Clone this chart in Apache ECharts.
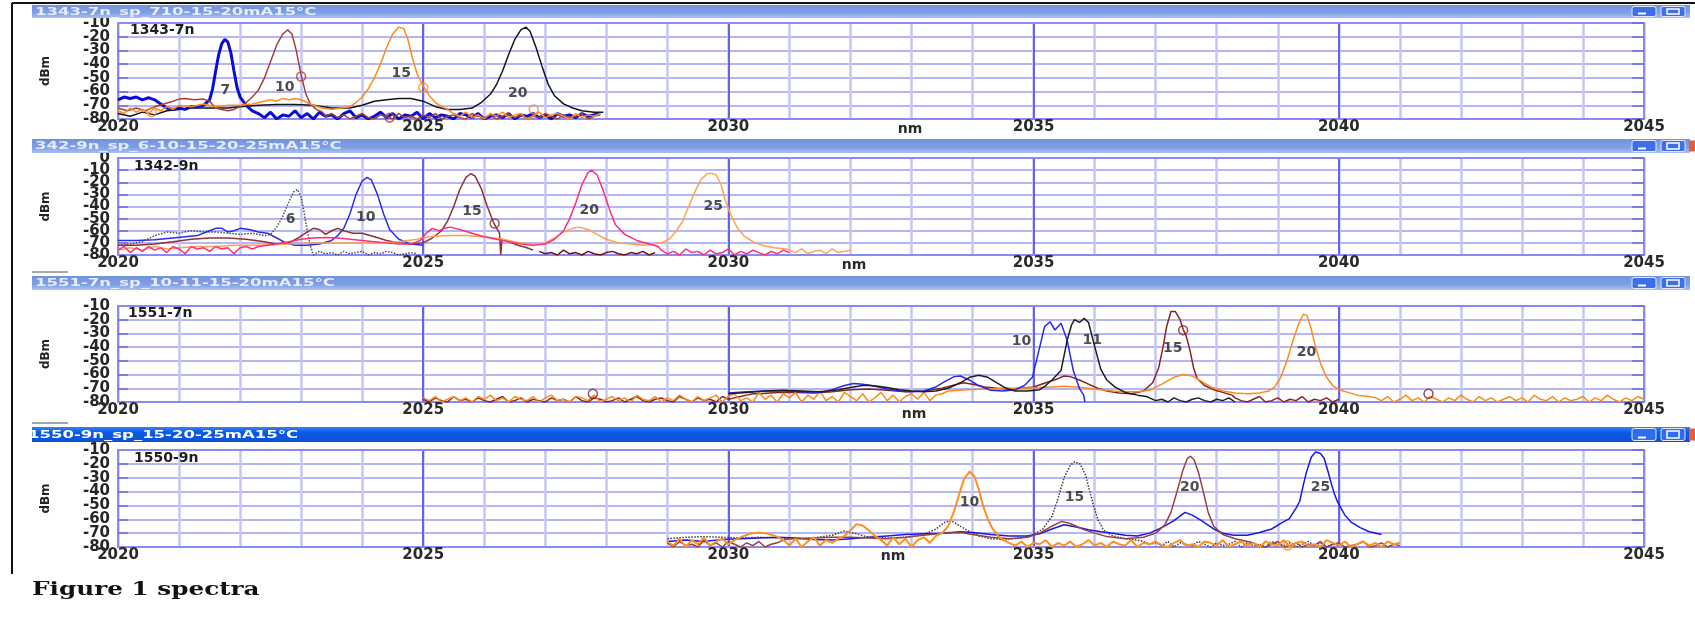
<!DOCTYPE html>
<html><head><meta charset="utf-8">
<script src="https://cdn.jsdelivr.net/npm/echarts@6.0.0/dist/echarts.min.js"></script>
<style>html,body{margin:0;padding:0;background:#fff;overflow:hidden}#c{width:1695px;height:627px}</style>
</head><body><div id="c"></div>
<script>
// ---------- text ----------
const TITLES = ['1343-7n_sp_710-15-20mA15°C', '342-9n_sp_6-10-15-20-25mA15°C', '1551-7n_sp_10-11-15-20mA15°C', '1550-9n_sp_15-20-25mA15°C'];
const NAMES = ['1343-7n', '1342-9n', '1551-7n', '1550-9n'];
const CAPTION = 'Figure 1 spectra';
const X_MIN = 2020, X_MAX = 2045;
const Y_MIN = -80;
const Y_MAX = [-10, 0, -10, -10];

// ---------- panel 1 (1343-7n) ----------
const P1_BLUE_7 = [[2020.0,-66],[2020.1,-64],[2020.2,-65],[2020.3,-64],[2020.4,-66],[2020.5,-64.5],[2020.6,-66],[2020.7,-69],[2020.8,-72],[2020.9,-73],[2021.0,-72],[2021.1,-73],[2021.2,-71],[2021.3,-71],[2021.4,-70],[2021.5,-66],[2021.55,-58],[2021.6,-45],[2021.65,-33],[2021.7,-25],[2021.75,-22],[2021.8,-24],[2021.85,-32],[2021.9,-45],[2021.95,-57],[2022.0,-64],[2022.1,-70],[2022.2,-74]];
const N_P1_BLUE = [-76,-79,-75,-80,-77,-78,-74,-79,-76,-80,-75,-78,-77,-80,-76,-74,-79,-77,-80,-78,-75,-79,-76,-80,-77,-78,-75,-80,-76,-79,-77,-78,-80,-76,-77,-79,-76,-80,-78,-77,-79,-76,-80,-77,-78,-76,-79,-77,-80,-76,-78,-77,-79,-76,-78,-77,-76];
const P1_BROWN_10 = [[2020.0,-72],[2020.15,-74],[2020.3,-72],[2020.45,-74],[2020.6,-71],[2020.75,-69],[2020.9,-67],[2021.0,-65.5],[2021.1,-65],[2021.25,-66],[2021.4,-65.5],[2021.5,-67],[2021.6,-72],[2021.7,-73],[2021.8,-74],[2021.9,-73],[2022.0,-71],[2022.1,-68],[2022.2,-64],[2022.3,-59],[2022.4,-50],[2022.5,-38],[2022.6,-26],[2022.7,-18],[2022.78,-15],[2022.85,-18],[2022.92,-30],[2023.0,-48],[2023.08,-62],[2023.15,-69],[2023.25,-73],[2023.35,-75]];
const N_P1_BROWN = [-78,-76,-79,-77,-80,-78,-76,-79,-80,-77,-78,-80,-76,-79,-78,-80,-77,-79,-76,-80,-78,-77,-79,-80,-76,-78,-79,-77,-80,-78,-76,-79,-77,-80,-78,-79,-76,-78,-80,-77,-79,-78,-76,-80,-78,-77];
const P1_ORANGE_15 = [[2020.0,-74],[2020.1,-76],[2020.2,-72],[2020.3,-75],[2020.4,-73],[2020.5,-76],[2020.6,-72],[2020.7,-74],[2020.8,-71],[2020.9,-73],[2021.0,-70],[2021.2,-71],[2021.4,-69],[2021.6,-71],[2021.8,-70],[2022.0,-70],[2022.2,-69],[2022.4,-67],[2022.5,-66],[2022.6,-67],[2022.7,-65],[2022.8,-66],[2022.9,-65],[2023.0,-66],[2023.1,-68],[2023.2,-70],[2023.35,-72],[2023.5,-73],[2023.65,-72],[2023.8,-71],[2023.9,-68],[2024.0,-64],[2024.1,-58],[2024.2,-50],[2024.3,-40],[2024.4,-28],[2024.5,-18],[2024.6,-13],[2024.68,-14],[2024.75,-22],[2024.82,-35],[2024.9,-47],[2025.0,-56],[2025.1,-63],[2025.2,-68],[2025.3,-71],[2025.4,-73]];
const N_P1_ORANGE = [-76,-78,-75,-79,-77,-80,-76,-78,-75,-79,-77,-76,-80,-78,-75,-79,-77,-76,-78,-80,-76,-79,-77,-78,-76];
const P1_BLACK_20 = [[2020.0,-76],[2020.2,-78],[2020.4,-75],[2020.6,-77],[2020.8,-74],[2021.0,-73],[2021.2,-72],[2021.5,-72],[2021.8,-72],[2022.0,-71],[2022.3,-70],[2022.6,-69.5],[2022.9,-69.5],[2023.2,-70],[2023.5,-72],[2023.8,-72],[2024.0,-70],[2024.2,-67],[2024.4,-66],[2024.6,-65],[2024.8,-65],[2025.0,-67],[2025.2,-71],[2025.4,-73],[2025.6,-73],[2025.8,-72],[2025.95,-68],[2026.1,-62],[2026.2,-55],[2026.3,-45],[2026.4,-33],[2026.5,-22],[2026.6,-15],[2026.68,-13],[2026.75,-16],[2026.85,-28],[2026.95,-42],[2027.05,-55],[2027.15,-63],[2027.3,-69],[2027.45,-72],[2027.6,-74],[2027.8,-75],[2027.95,-75]];
const P1_LABELS = [[2021.76,-59,'7'],[2022.73,-57,'10'],[2024.64,-47,'15'],[2026.55,-61,'20']];
const P1_MARKS_BROWN = [[2023.0,-49],[2024.45,-79]];
const P1_MARKS_ORANGE = [[2025.0,-57],[2020.55,-75],[2026.81,-73]];

// ---------- panel 2 (1342-9n) ----------
const P2_GRAY_6 = [[2020.0,-72],[2020.2,-71],[2020.4,-69],[2020.6,-64],[2020.8,-61],[2021.0,-62],[2021.2,-60],[2021.4,-61],[2021.6,-61],[2021.8,-62],[2022.0,-63],[2022.2,-62],[2022.4,-64],[2022.5,-63],[2022.6,-57],[2022.7,-48],[2022.8,-36],[2022.88,-28],[2022.94,-26],[2023.0,-32],[2023.05,-45],[2023.1,-60],[2023.15,-72],[2023.2,-80]];
const N_P2_GRAY = [-77,-79,-78,-80,-77,-79,-78,-77,-80,-78,-79,-77,-78,-80,-79,-78,-79];
const P2_BLUE_10 = [[2020.0,-68],[2020.3,-68],[2020.6,-67.5],[2020.9,-66],[2021.1,-65],[2021.3,-64],[2021.5,-60],[2021.6,-58],[2021.7,-58],[2021.8,-61],[2021.9,-60],[2022.0,-58],[2022.15,-59],[2022.3,-61],[2022.45,-62],[2022.6,-66],[2022.75,-70],[2022.9,-72],[2023.1,-72],[2023.3,-71],[2023.5,-68],[2023.6,-64],[2023.7,-58],[2023.8,-46],[2023.9,-30],[2024.0,-19],[2024.08,-16],[2024.15,-18],[2024.25,-30],[2024.35,-46],[2024.45,-59],[2024.6,-67],[2024.8,-71],[2025.0,-72]];
const P2_BROWN_15 = [[2020.0,-72],[2020.3,-72],[2020.6,-71],[2020.9,-69],[2021.2,-67],[2021.5,-66],[2021.8,-66],[2022.1,-67],[2022.4,-69],[2022.6,-71],[2022.8,-70],[2022.95,-66],[2023.1,-61],[2023.2,-58],[2023.3,-59],[2023.4,-63],[2023.5,-60],[2023.6,-58],[2023.7,-60],[2023.85,-62],[2024.0,-62],[2024.2,-65],[2024.4,-68],[2024.6,-70],[2024.8,-71],[2025.0,-70],[2025.15,-66],[2025.3,-60],[2025.4,-52],[2025.5,-40],[2025.6,-26],[2025.7,-16],[2025.78,-13],[2025.85,-15],[2025.95,-25],[2026.05,-40],[2026.15,-53],[2026.25,-62],[2026.27,-80],[2026.29,-67],[2026.4,-69],[2026.55,-72],[2026.7,-74],[2026.8,-76]];
const N_P2_DARK = [-77,-79,-78,-80,-76,-79,-78,-80,-77,-79,-80,-78,-77,-79,-80,-78,-79,-77,-80,-78];
const P2_PINK_20 = [[2020.0,-76],[2020.1,-73],[2020.2,-78],[2020.3,-74],[2020.4,-77],[2020.5,-73],[2020.6,-76],[2020.7,-74],[2020.8,-78],[2020.9,-73],[2021.0,-75],[2021.1,-79],[2021.2,-73],[2021.3,-75],[2021.4,-74],[2021.5,-77],[2021.6,-73],[2021.7,-75],[2021.8,-74],[2021.9,-79],[2022.0,-74],[2022.1,-73],[2022.2,-75],[2022.3,-73],[2022.45,-72],[2022.6,-71],[2022.8,-69],[2023.0,-67],[2023.2,-66],[2023.4,-65.5],[2023.6,-66],[2023.8,-67],[2024.0,-68],[2024.2,-69],[2024.4,-70],[2024.6,-71],[2024.8,-71],[2024.95,-68],[2025.05,-62],[2025.15,-58],[2025.25,-60],[2025.35,-58],[2025.45,-57],[2025.6,-59],[2025.8,-62],[2026.0,-65],[2026.2,-67],[2026.4,-69],[2026.6,-71],[2026.8,-72],[2027.0,-71],[2027.15,-67],[2027.3,-60],[2027.4,-50],[2027.5,-37],[2027.6,-22],[2027.7,-12],[2027.76,-10],[2027.85,-14],[2027.95,-27],[2028.05,-42],[2028.15,-55],[2028.3,-63],[2028.5,-68],[2028.7,-71],[2028.85,-73]];
const N_P2_PINK = [-76,-79,-77,-80,-75,-78,-77,-80,-76,-79,-78,-75,-80,-77,-79,-76,-78,-80,-77,-79,-76,-78];
const P2_ORANGE_25 = [[2020.0,-76],[2020.2,-74],[2020.4,-76],[2020.6,-73],[2020.8,-75],[2021.0,-74],[2021.3,-73],[2021.6,-73],[2021.9,-72],[2022.2,-72],[2022.5,-71.5],[2022.8,-71],[2023.1,-70],[2023.4,-70],[2023.7,-70],[2024.0,-70],[2024.3,-70],[2024.6,-69],[2024.9,-67],[2025.1,-65],[2025.4,-64],[2025.7,-64],[2026.0,-65],[2026.3,-67],[2026.6,-70],[2026.8,-71],[2027.0,-70],[2027.15,-66],[2027.3,-61],[2027.45,-58],[2027.55,-57],[2027.7,-59],[2027.85,-63],[2028.0,-67],[2028.2,-70],[2028.4,-71],[2028.6,-72],[2028.8,-71],[2028.95,-69],[2029.05,-66],[2029.15,-60],[2029.25,-52],[2029.35,-40],[2029.45,-28],[2029.55,-18],[2029.65,-13],[2029.72,-12.5],[2029.8,-14],[2029.88,-22],[2029.95,-35],[2030.05,-48],[2030.15,-58],[2030.25,-64],[2030.4,-69],[2030.55,-72],[2030.75,-74],[2030.95,-75]];
const N_P2_ORANGE = [-76,-78,-75,-79,-77,-76,-79,-75,-78,-77,-76];
const P2_LABELS = [[2022.83,-51,'6'],[2024.06,-49,'10'],[2025.8,-44,'15'],[2027.72,-43,'20'],[2029.75,-40,'25']];
const P2_MARKS_BROWN = [[2026.17,-54]];

// ---------- panel 3 (1551-7n) ----------
const N_P3_BROWN_A = [-78,-80,-77,-79,-80,-76,-79,-78,-80,-77,-79,-80,-78,-76,-80,-79,-77,-80,-78,-79,-80,-77,-79,-78,-80,-76,-79,-80,-77,-78,-80,-79,-77,-80,-78,-76,-79,-80,-78,-77,-79,-80,-76,-78,-80,-77,-79,-78,-80,-76,-78,-77,-76,-75,-74];
const P3_BROWN_15 = [[2030.5,-74],[2030.8,-73],[2031.1,-73],[2031.4,-73.5],[2031.7,-72.5],[2032.0,-71],[2032.3,-70.5],[2032.6,-71.5],[2032.9,-72.5],[2033.2,-72],[2033.5,-70],[2033.7,-67.5],[2033.85,-66],[2034.0,-67],[2034.2,-69],[2034.4,-70],[2034.6,-70.5],[2034.8,-70],[2035.0,-69],[2035.2,-66],[2035.4,-63],[2035.5,-61],[2035.6,-61.5],[2035.75,-64],[2035.9,-67],[2036.05,-70],[2036.2,-72],[2036.4,-73.5],[2036.6,-74],[2036.8,-72],[2036.95,-66],[2037.05,-55],[2037.12,-40],[2037.18,-25],[2037.25,-14],[2037.32,-14],[2037.4,-20],[2037.45,-27],[2037.5,-32],[2037.56,-42],[2037.62,-55],[2037.68,-63],[2037.8,-68],[2037.95,-71],[2038.1,-73],[2038.25,-75]];
const N_P3_BROWN_B = [-77,-79,-80,-78,-76,-80,-79,-77,-80,-78,-79,-76,-80,-78,-79,-77,-80,-78];
const N_P3_ORANGE_A = [-77,-79,-76,-80,-78,-76,-79,-77,-80,-76,-78,-75,-79,-77,-80,-76,-78,-79,-76,-80,-77,-75,-79,-78,-80,-76,-77,-79,-75,-80,-78,-76,-79,-77,-80,-75,-78,-79,-76,-80,-77,-79,-75,-78,-80,-76,-79,-77,-75,-80,-76,-74,-79,-77,-80,-73,-78,-75,-80,-74,-77,-73,-80,-75,-78,-72,-79,-76,-80,-73,-76,-79,-74,-80,-77,-73,-79,-75,-80,-76,-74,-78,-73,-79,-75,-74];
const P3_ORANGE_20 = [[2033.6,-72],[2033.9,-71],[2034.2,-70.5],[2034.5,-70],[2034.8,-70],[2035.1,-69.5],[2035.3,-69],[2035.5,-68.5],[2035.7,-69],[2035.9,-70],[2036.1,-71],[2036.3,-72],[2036.5,-72.5],[2036.7,-72.5],[2036.9,-71.5],[2037.1,-67],[2037.3,-62],[2037.45,-60],[2037.6,-61],[2037.75,-65],[2037.9,-69],[2038.1,-72],[2038.3,-73.5],[2038.5,-74],[2038.7,-73.5],[2038.85,-72],[2038.95,-69],[2039.05,-62],[2039.15,-50],[2039.25,-35],[2039.35,-22],[2039.42,-16],[2039.48,-17],[2039.55,-27],[2039.62,-40],[2039.7,-52],[2039.8,-62],[2039.9,-68],[2040.0,-71],[2040.15,-73],[2040.3,-75],[2040.5,-76]];
const N_P3_ORANGE_B = [-77,-79,-76,-80,-78,-75,-79,-77,-80,-76,-78,-80,-77,-79,-75,-78,-80,-76,-79,-77,-80,-78,-76,-79,-77,-80,-75,-78,-79,-76,-80,-77,-79,-78,-76,-80,-77,-79,-75,-78,-80,-77,-79,-76,-78];
const P3_BLUE_10 = [[2030.0,-73.5],[2030.3,-72.5],[2030.6,-72],[2030.9,-72],[2031.2,-72.5],[2031.5,-73],[2031.7,-71],[2031.9,-68],[2032.05,-66.5],[2032.2,-67],[2032.4,-68.5],[2032.6,-70.5],[2032.8,-72],[2033.0,-72.5],[2033.2,-72],[2033.4,-69],[2033.55,-65],[2033.7,-61.5],[2033.8,-61],[2033.95,-64],[2034.1,-68],[2034.3,-71.5],[2034.5,-72],[2034.7,-71],[2034.85,-68],[2034.98,-62],[2035.1,-40],[2035.18,-25],[2035.27,-21.5],[2035.35,-27.5],[2035.45,-22.5],[2035.55,-35],[2035.65,-57],[2035.75,-70],[2035.82,-75],[2035.84,-80]];
const P3_BLACK_11 = [[2030.0,-74],[2030.3,-73],[2030.6,-72],[2030.9,-71.5],[2031.2,-72],[2031.5,-72.5],[2031.8,-71],[2032.0,-69.5],[2032.2,-68],[2032.3,-67.8],[2032.45,-68.5],[2032.6,-69.5],[2032.8,-71],[2033.0,-72],[2033.2,-72.5],[2033.4,-72],[2033.6,-70],[2033.8,-66],[2033.95,-62],[2034.1,-60.5],[2034.25,-62],[2034.4,-66],[2034.55,-70],[2034.7,-72],[2034.9,-72],[2035.1,-71],[2035.2,-68],[2035.3,-64],[2035.45,-57],[2035.55,-35],[2035.62,-24],[2035.67,-20],[2035.75,-22],[2035.83,-19],[2035.9,-22],[2035.98,-36],[2036.1,-56],[2036.2,-64],[2036.33,-69],[2036.5,-73],[2036.7,-75],[2036.85,-76]];
const N_P3_BLACK = [-77,-79,-78,-80,-77,-79,-80,-78,-77,-79,-80,-78,-79,-77,-80];
const P3_LABELS = [[2034.8,-36,'10'],[2035.96,-35,'11'],[2037.28,-41,'15'],[2039.47,-44,'20']];
const P3_MARKS_BROWN = [[2037.45,-27.6],[2027.78,-74],[2041.47,-74]];

// ---------- panel 4 (1550-9n) ----------
const N_P4_OR_A = [-76,-79,-74,-80,-75,-78,-73,-79,-76,-74,-78,-75];
const P4_OR_BUMP1 = [[2030.2,-73],[2030.35,-70.5],[2030.5,-69.5],[2030.65,-70.5],[2030.8,-72.5]];
const N_P4_OR_B = [-75,-79,-74,-80,-76,-73,-79,-75,-77,-74,-72];
const P4_OR_BUMP2 = [[2032.0,-68],[2032.1,-63.5],[2032.2,-64.5],[2032.3,-68],[2032.4,-72]];
const N_P4_OR_C = [-75,-79,-73,-78,-74,-80,-75,-73,-77,-72];
const P4_ORANGE_10 = [[2033.5,-70],[2033.6,-65],[2033.7,-54],[2033.78,-42],[2033.86,-31],[2033.95,-25.5],[2034.03,-29],[2034.1,-38],[2034.17,-50],[2034.25,-60],[2034.33,-67],[2034.42,-72],[2034.5,-75]];
const N_P4_OR_D = [-77,-79,-76,-80,-77,-78,-75,-80,-77,-79,-76,-80,-78,-75,-79,-77,-80,-76,-78,-79,-75,-80,-77,-78,-76,-79,-80,-77,-75,-79,-78,-80,-76,-77,-79,-75,-80,-78,-76,-79,-77,-80,-76,-78,-79,-75,-80,-77,-76,-79,-78,-80,-75,-77,-79,-76,-80,-78,-76,-79,-77,-80,-76,-78,-77];
const P4_GRAY_15 = [[2029.0,-74],[2029.3,-73],[2029.6,-72.5],[2029.9,-73],[2030.2,-73.5],[2030.5,-73],[2030.8,-73.5],[2031.1,-74],[2031.4,-73.5],[2031.7,-71.5],[2031.9,-68.5],[2032.1,-70.5],[2032.3,-73],[2032.6,-73.5],[2032.9,-73],[2033.2,-71],[2033.4,-67],[2033.55,-62],[2033.65,-61],[2033.8,-65],[2033.95,-69],[2034.1,-72],[2034.3,-74],[2034.5,-74.5],[2034.8,-73.5],[2035.0,-71],[2035.15,-67],[2035.3,-58],[2035.4,-45],[2035.5,-30],[2035.6,-21],[2035.67,-18.5],[2035.76,-20],[2035.85,-28],[2035.95,-45],[2036.05,-60],[2036.15,-68],[2036.3,-72],[2036.5,-74],[2036.7,-75]];
const N_P4_GRAY = [-76,-78,-77,-79,-76,-80,-77,-78,-79,-76,-78,-80,-77,-79,-78,-76,-80,-77,-79,-78,-80,-76,-78,-79,-77,-80,-78,-76,-79,-77,-80,-78,-79];
const N_P4_BR_A = [-77,-80,-76,-79,-78,-80,-75,-79,-77,-80,-76,-78,-80,-77,-79,-76,-80,-78,-77,-75,-74];
const P4_BROWN_20 = [[2031.1,-74],[2031.4,-73.5],[2031.7,-73],[2032.0,-73],[2032.3,-73.5],[2032.6,-74],[2032.9,-73],[2033.2,-71.5],[2033.5,-70],[2033.8,-69.5],[2034.0,-71],[2034.3,-73],[2034.6,-74],[2034.9,-73],[2035.1,-70],[2035.3,-65],[2035.46,-61.5],[2035.6,-63],[2035.8,-67],[2036.0,-70],[2036.2,-72.5],[2036.5,-74],[2036.8,-73],[2037.0,-70],[2037.15,-64],[2037.25,-55],[2037.35,-40],[2037.45,-24],[2037.52,-16],[2037.57,-14.5],[2037.63,-17],[2037.7,-26],[2037.78,-40],[2037.86,-55],[2037.95,-65],[2038.1,-71],[2038.3,-74],[2038.5,-76]];
const N_P4_BR_B = [-77,-79,-80,-78,-76,-80,-79,-77,-80,-78,-79,-76,-80,-78,-77,-80,-79,-78,-76,-80,-79,-77,-80,-78,-79];
const P4_BLUE_25 = [[2029.0,-76],[2029.3,-75],[2029.6,-76],[2029.9,-74.5],[2030.2,-74],[2030.5,-73.5],[2030.8,-73],[2031.1,-73.5],[2031.4,-74.5],[2031.7,-75],[2032.0,-74],[2032.3,-73],[2032.6,-72],[2032.9,-71],[2033.2,-70.5],[2033.5,-70],[2033.8,-69],[2034.0,-69.5],[2034.3,-71],[2034.6,-72],[2034.9,-72],[2035.1,-70.5],[2035.3,-67],[2035.5,-64],[2035.7,-65.5],[2035.9,-67.5],[2036.1,-69],[2036.3,-70],[2036.5,-71.5],[2036.7,-72],[2036.9,-70],[2037.1,-66],[2037.3,-61],[2037.48,-55],[2037.6,-57],[2037.75,-61],[2037.95,-67],[2038.1,-70],[2038.28,-71.5],[2038.5,-71.5],[2038.7,-69.5],[2038.9,-67],[2039.05,-63],[2039.19,-59.5],[2039.3,-52],[2039.36,-47],[2039.42,-35],[2039.47,-26],[2039.55,-15],[2039.62,-11.5],[2039.7,-12.5],[2039.76,-16],[2039.82,-25],[2039.87,-33],[2039.93,-42],[2039.98,-47.5],[2040.1,-57],[2040.2,-62],[2040.35,-66],[2040.5,-69],[2040.7,-71]];
const P4_LABELS = [[2033.95,-48,'10'],[2035.67,-44,'15'],[2037.56,-37,'20'],[2039.7,-37,'25']];
const P4_MARKS_ORANGE = [[2039.16,-79]];

// ---------- helpers ----------
function noise(start, step, vals) {
  return vals.map((v, i) => [Math.round((start + i * step) * 100) / 100, v]);
}
const FONT = '"DejaVu Sans", sans-serif';
const LAYOUT = [
  {top: 23, height: 96, barY: 5, barH: 13, nmX: 910, nmY: 129, nameX: 130, nameY: 30, titleX: 35},
  {top: 158, height: 97, barY: 139, barH: 14, nmX: 854, nmY: 265, nameX: 134, nameY: 166, titleX: 35},
  {top: 306, height: 96, barY: 276, barH: 14, nmX: 914, nmY: 414, nameX: 128, nameY: 313, titleX: 35},
  {top: 450, height: 97, barY: 427, barH: 15, nmX: 893, nmY: 556, nameX: 134, nameY: 458, titleX: 28}
];
const GRID_LEFT = 118, GRID_RIGHT = 51;
const YLABEL = {fontSize: 15, fontWeight: 'bold', color: '#262626', fontFamily: FONT, margin: 8};

const grids = [], xAxes = [], yAxes = [];
LAYOUT.forEach((L, i) => {
  grids.push({left: GRID_LEFT, right: GRID_RIGHT, top: L.top, height: L.height});
  xAxes.push({
    gridIndex: i, type: 'value', min: X_MIN, max: X_MAX, interval: 1, position: 'bottom',
    axisLine: {show: true, onZero: false, lineStyle: {color: '#8a8af2', width: 2}},
    axisTick: {show: false},
    axisLabel: {formatter: v => (v % 5 === 0 ? String(v) : ''), fontSize: 15, fontWeight: 'bold', color: '#2a2a2a', fontFamily: FONT, margin: 1, showMinLabel: true, showMaxLabel: true},
    splitLine: {show: true, lineStyle: {color: '#c6c6f6', width: 2.5}}
  });
  xAxes.push({
    gridIndex: i, type: 'value', min: X_MIN, max: X_MAX, interval: 5, position: 'top',
    axisLine: {show: true, onZero: false, lineStyle: {color: '#8a8af2', width: 2}},
    axisTick: {show: false}, axisLabel: {show: false},
    splitLine: {show: true, lineStyle: {color: '#6464e4', width: 2}}
  });
  // main left axis: grid lines, inner ticks, intermediate labels
  yAxes.push({
    gridIndex: i, type: 'value', min: Y_MIN, max: Y_MAX[i], interval: 10, position: 'left',
    name: 'dBm', nameLocation: 'middle', nameGap: 66,
    nameTextStyle: {fontSize: 12, fontWeight: 'bold', color: '#222', fontFamily: FONT},
    axisLine: {show: true, onZero: false, lineStyle: {color: '#8a8af2', width: 2}},
    axisTick: {show: true, inside: true, length: 10, lineStyle: {color: '#6a6ae6', width: 1.5}},
    axisLabel: Object.assign({showMinLabel: false, showMaxLabel: false}, YLABEL),
    splitLine: {show: true, lineStyle: {color: '#9e9ef2', width: 1.5}}
  });
  // right border with inner ticks
  yAxes.push({
    gridIndex: i, type: 'value', min: Y_MIN, max: Y_MAX[i], interval: 10, position: 'right',
    axisLine: {show: true, onZero: false, lineStyle: {color: '#8a8af2', width: 2}},
    axisTick: {show: true, inside: true, length: 12, lineStyle: {color: '#6a6ae6', width: 1.5}},
    axisLabel: {show: false}, splitLine: {show: false}
  });
  // end labels (min / max) on the same left scale
  yAxes.push({
    gridIndex: i, type: 'value', min: Y_MIN, max: Y_MAX[i], interval: Y_MAX[i] - Y_MIN, position: 'left', offset: 0,
    axisLine: {show: false}, axisTick: {show: false}, splitLine: {show: false},
    axisLabel: Object.assign({showMinLabel: true, showMaxLabel: true}, YLABEL)
  });
});

function line(p, data, color, width, type) {
  return {type: 'line', xAxisIndex: 2 * p, yAxisIndex: 3 * p, data: data, showSymbol: false, symbol: 'none',
    lineStyle: {color: color, width: width, type: type || 'solid'}, itemStyle: {color: color},
    silent: true, animation: false, z: 3, clip: true};
}
function labels(p, data) {
  return {type: 'scatter', xAxisIndex: 2 * p, yAxisIndex: 3 * p, data: data, symbolSize: 1,
    itemStyle: {color: 'rgba(0,0,0,0)'}, silent: true, animation: false, z: 10,
    label: {show: true, position: 'inside', formatter: q => q.data[2], fontSize: 14, fontWeight: 'bold', color: '#222', fontFamily: FONT}};
}
function marks(p, data, color) {
  return {type: 'scatter', xAxisIndex: 2 * p, yAxisIndex: 3 * p, data: data, symbol: 'circle', symbolSize: 9,
    itemStyle: {color: 'rgba(255,255,255,0)', borderColor: color, borderWidth: 1.5}, silent: true, animation: false, z: 6};
}

const series = [
  // panel 1
  line(0, P1_BLACK_20, '#161616', 1.5),
  line(0, P1_BLUE_7.concat(noise(2022.3, 0.1, N_P1_BLUE)), '#0b0bd4', 3),
  line(0, P1_BROWN_10.concat(noise(2023.4, 0.1, N_P1_BROWN)), '#a3413d', 1.5),
  line(0, P1_ORANGE_15.concat(noise(2025.5, 0.1, N_P1_ORANGE)), '#ff8a1c', 1.5),
  labels(0, P1_LABELS),
  marks(0, P1_MARKS_BROWN, '#a3413d'),
  marks(0, P1_MARKS_ORANGE, '#ff8a1c'),
  // panel 2
  line(1, P2_BLUE_10, '#2b2bef', 1.5),
  line(1, P2_GRAY_6.concat(noise(2023.3, 0.1, N_P2_GRAY)), '#4a4a4a', 1.5, 'dotted'),
  line(1, P2_BROWN_15, '#8b3434', 1.5),
  line(1, noise(2026.9, 0.1, N_P2_DARK), '#6e1212', 1.5),
  line(1, P2_ORANGE_25.concat(noise(2031.0, 0.1, N_P2_ORANGE)), '#ffa24a', 1.5),
  line(1, P2_PINK_20.concat(noise(2028.9, 0.1, N_P2_PINK)), '#ff2f7d', 1.5),
  labels(1, P2_LABELS),
  marks(1, P2_MARKS_BROWN, '#8b3434'),
  // panel 3
  line(2, noise(2025.0, 0.1, N_P3_BROWN_A).concat(P3_BROWN_15, noise(2038.3, 0.1, N_P3_BROWN_B)), '#8b2222', 1.5),
  line(2, noise(2025.0, 0.1, N_P3_ORANGE_A).concat(P3_ORANGE_20, noise(2040.6, 0.1, N_P3_ORANGE_B)), '#ff8a1c', 1.5),
  line(2, P3_BLUE_10, '#2828ee', 1.5),
  line(2, P3_BLACK_11.concat(noise(2036.9, 0.1, N_P3_BLACK)), '#1e1e1e', 1.5),
  labels(2, P3_LABELS),
  marks(2, P3_MARKS_BROWN, '#8b2222'),
  // panel 4
  line(3, P4_GRAY_15.concat(noise(2036.8, 0.1, N_P4_GRAY)), '#3c3c3c', 1.5, 'dotted'),
  line(3, P4_BLUE_25, '#1818e0', 1.5),
  line(3, noise(2029.0, 0.1, N_P4_BR_A).concat(P4_BROWN_20, noise(2038.6, 0.1, N_P4_BR_B)), '#9c3f3f', 1.5),
  line(3, noise(2029.0, 0.1, N_P4_OR_A).concat(P4_OR_BUMP1, noise(2030.9, 0.1, N_P4_OR_B), P4_OR_BUMP2,
        noise(2032.5, 0.1, N_P4_OR_C), P4_ORANGE_10, noise(2034.6, 0.1, N_P4_OR_D)), '#ff9020', 2),
  labels(3, P4_LABELS),
  marks(3, P4_MARKS_ORANGE, '#ff9020')
];

// ---------- decoration (window chrome, names, caption) ----------
const graphic = [];
graphic.push({type: 'line', shape: {x1: 12, y1: 3, x2: 1695, y2: 3}, style: {stroke: '#111', lineWidth: 2}, z: 50});
graphic.push({type: 'line', shape: {x1: 12, y1: 3, x2: 12, y2: 574}, style: {stroke: '#111', lineWidth: 2}, z: 50});
graphic.push({type: 'line', shape: {x1: 32, y1: 272, x2: 68, y2: 272}, style: {stroke: '#888', lineWidth: 1.5}, z: 50});
graphic.push({type: 'line', shape: {x1: 32, y1: 423, x2: 68, y2: 423}, style: {stroke: '#888', lineWidth: 1.5}, z: 50});
LAYOUT.forEach((L, i) => {
  const active = i === 3;
  const grad = active
    ? new echarts.graphic.LinearGradient(0, 0, 0, 1, [{offset: 0, color: '#3a80f4'}, {offset: 0.35, color: '#0a5ae6'}, {offset: 1, color: '#0a52d8'}])
    : new echarts.graphic.LinearGradient(0, 0, 0, 1, [{offset: 0, color: '#7292de'}, {offset: 0.6, color: '#7f9fe4'}, {offset: 1, color: '#a9c0f2'}]);
  graphic.push({type: 'rect', shape: {x: 32, y: L.barY, width: 1658, height: L.barH}, style: {fill: grad}, z: 40});
  graphic.push({type: 'text', x: L.titleX, y: L.barY + L.barH / 2 + 0.5, scaleX: 1.5, z: 41,
    style: {text: TITLES[i], fill: active ? '#ffffff' : '#e6ecff', font: 'bold 11px ' + FONT, align: 'left', verticalAlign: 'middle'}});
  const by = L.barY + 1.5, bh = L.barH - 3;
  const bfill = active ? '#2f6cf0' : '#3d6fe6';
  graphic.push({type: 'rect', shape: {x: 1632, y: by, width: 24, height: bh, r: 2}, style: {fill: bfill, stroke: '#dfe8ff', lineWidth: 1}, z: 42});
  graphic.push({type: 'rect', shape: {x: 1638, y: by + bh - 4, width: 8, height: 2}, style: {fill: '#fff'}, z: 43});
  graphic.push({type: 'rect', shape: {x: 1661, y: by, width: 24, height: bh, r: 2}, style: {fill: bfill, stroke: '#dfe8ff', lineWidth: 1}, z: 42});
  graphic.push({type: 'rect', shape: {x: 1667, y: by + 2.5, width: 12, height: bh - 5}, style: {fill: 'none', stroke: '#fff', lineWidth: 1.5}, z: 43});
  if (i === 1 || i === 3) {
    graphic.push({type: 'rect', shape: {x: 1689, y: by, width: 6, height: bh}, style: {fill: '#e0603c'}, z: 42});
  }
  graphic.push({type: 'text', x: L.nameX, y: L.nameY, z: 45,
    style: {text: NAMES[i], fill: '#1e1e1e', font: 'bold 14px ' + FONT, align: 'left', verticalAlign: 'middle'}});
  graphic.push({type: 'text', x: L.nmX, y: L.nmY, z: 45,
    style: {text: 'nm', fill: '#2a2a2a', font: 'bold 14px ' + FONT, align: 'center', verticalAlign: 'middle'}});
});
graphic.push({type: 'text', x: 32, y: 590, scaleX: 1.3, z: 45,
  style: {text: CAPTION, fill: '#111', font: 'bold 19px "DejaVu Serif", serif', align: 'left', verticalAlign: 'middle'}});

const chart = echarts.init(document.getElementById('c'), null, {renderer: 'canvas'});
chart.setOption({
  animation: false,
  backgroundColor: '#ffffff',
  grid: grids, xAxis: xAxes, yAxis: yAxes, series: series, graphic: graphic
});
</script></body></html>
